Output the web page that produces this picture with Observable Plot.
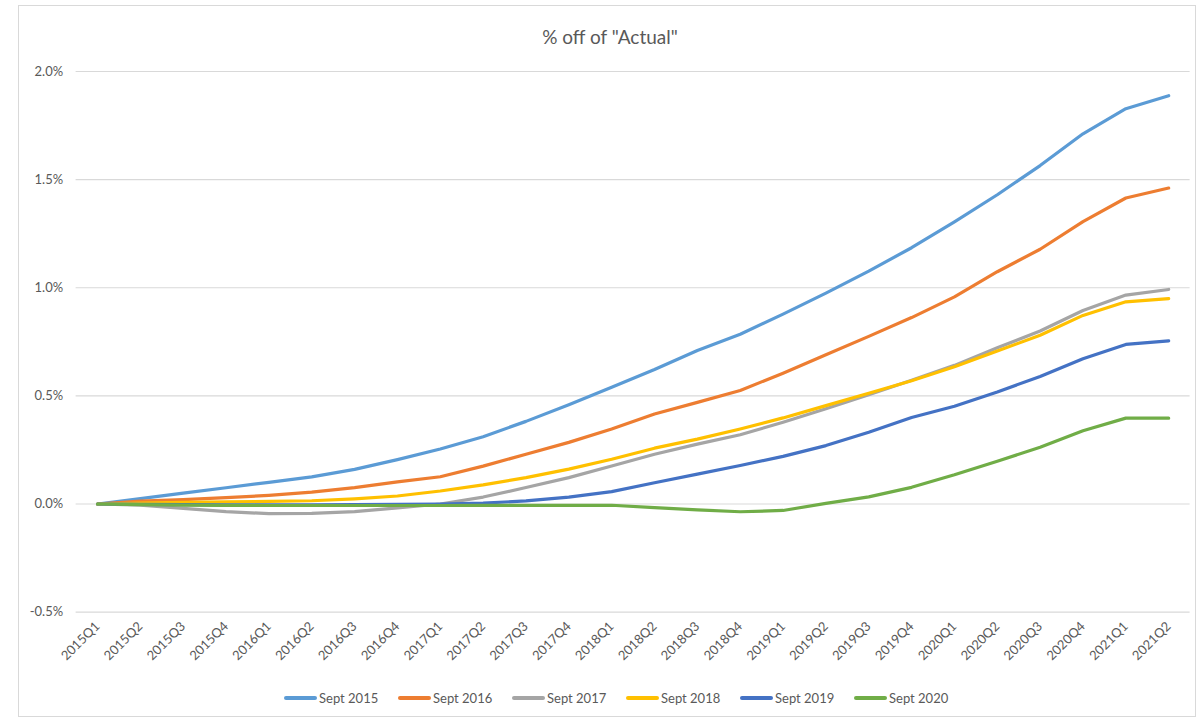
<!DOCTYPE html>
<html>
<head>
<meta charset="utf-8">
<script src="https://cdn.jsdelivr.net/npm/d3@7"></script>
<script src="https://cdn.jsdelivr.net/npm/@observablehq/plot@0.6"></script>
<style>
  html, body { margin: 0; padding: 0; background: #fff; }
  #wrap { position: relative; width: 1199px; height: 721px; overflow: hidden; font-family: Lato, "Open Sans", sans-serif; color: #595959; }
  #frame { position: absolute; left: 18px; top: 5px; width: 1178px; height: 712px; border: 1px solid #d9d9d9; box-sizing: border-box; }
  #title { position: absolute; left: 21px; width: 1178px; top: 25px; text-align: center; font-size: 19px; color: #595959; }
  #chart { position: absolute; left: 0; top: 0; }
  #legend { position: absolute; left: 284px; top: 690px; display: flex; font-size: 13px; color: #595959; }
  .item { width: 114px; display: flex; align-items: center; }
  .sw { width: 33px; height: 4px; margin-right: 2px; border-radius: 2px; }
</style>
</head>
<body>
<div id="wrap">
  <div id="frame"></div>
  <div id="chart"></div>
  <div id="title">% off of "Actual"</div>
  <div id="legend"></div>
</div>
<script>
const quarters = ["2015Q1","2015Q2","2015Q3","2015Q4","2016Q1","2016Q2","2016Q3","2016Q4",
  "2017Q1","2017Q2","2017Q3","2017Q4","2018Q1","2018Q2","2018Q3","2018Q4",
  "2019Q1","2019Q2","2019Q3","2019Q4","2020Q1","2020Q2","2020Q3","2020Q4","2021Q1","2021Q2"];

const seriesNames = ["Sept 2015","Sept 2016","Sept 2017","Sept 2018","Sept 2019","Sept 2020"];
const seriesColors = ["#5B9BD5","#ED7D31","#A5A5A5","#FFC000","#4472C4","#70AD47"];

const sept2015 = [0, 0.025, 0.05, 0.075, 0.10, 0.125, 0.16, 0.205, 0.254, 0.311, 0.382, 0.459, 0.54, 0.622, 0.71, 0.785, 0.878, 0.975, 1.077, 1.185, 1.305, 1.43, 1.565, 1.712, 1.828, 1.888];
const sept2016 = [0, 0.013, 0.02, 0.029, 0.04, 0.055, 0.076, 0.102, 0.126, 0.175, 0.23, 0.285, 0.347, 0.416, 0.47, 0.525, 0.605, 0.69, 0.775, 0.862, 0.958, 1.074, 1.178, 1.306, 1.415, 1.461];
const sept2017 = [0, -0.005, -0.02, -0.035, -0.045, -0.043, -0.035, -0.018, 0.0, 0.032, 0.076, 0.122, 0.176, 0.23, 0.277, 0.32, 0.378, 0.44, 0.505, 0.572, 0.641, 0.722, 0.80, 0.895, 0.966, 0.992];
const sept2018 = [0, 0.004, 0.007, 0.01, 0.012, 0.015, 0.024, 0.037, 0.06, 0.088, 0.122, 0.161, 0.207, 0.258, 0.30, 0.347, 0.398, 0.455, 0.512, 0.57, 0.635, 0.708, 0.78, 0.872, 0.935, 0.95];
const sept2019 = [0, -0.002, -0.003, -0.004, -0.004, -0.004, -0.003, -0.002, 0.0, 0.004, 0.014, 0.032, 0.057, 0.098, 0.138, 0.178, 0.22, 0.27, 0.332, 0.40, 0.452, 0.518, 0.59, 0.672, 0.738, 0.754];
const sept2020 = [0, -0.003, -0.005, -0.006, -0.007, -0.007, -0.007, -0.007, -0.007, -0.006, -0.006, -0.006, -0.006, -0.017, -0.027, -0.036, -0.03, 0.003, 0.033, 0.077, 0.135, 0.198, 0.262, 0.339, 0.397, 0.397];

const yTicks = [-0.5, 0, 0.5, 1.0, 1.5, 2.0];

const seriesValues = [sept2015, sept2016, sept2017, sept2018, sept2019, sept2020];
const rows = [];
seriesNames.forEach((name, i) => {
  seriesValues[i].forEach((v, j) => rows.push({series: name, q: quarters[j], v}));
});

const chart = Plot.plot({
  width: 1199,
  height: 680,
  marginTop: 71,
  marginBottom: 68.4,
  marginLeft: 75.6,
  marginRight: 9.4,
  style: {fontFamily: "Lato, 'Open Sans', sans-serif", fontSize: "13px", color: "#595959", background: "transparent", overflow: "visible"},
  x: {type: "point", domain: quarters, padding: 0.5, round: false, label: null},
  y: {domain: [-0.5, 2.0], label: null},
  color: {domain: seriesNames, range: seriesColors},
  marks: [
    Plot.gridY(yTicks, {stroke: "#d9d9d9", strokeOpacity: 1, strokeWidth: 1.2}),
    Plot.axisY(yTicks, {tickSize: 0, tickPadding: 13, tickFormat: d => d.toFixed(1) + "%", label: null, fill: "#595959"}),
    Plot.axisX({tickSize: 0, tickRotate: -45, tickPadding: 12, label: null, fill: "#595959"}),
    Plot.line(rows, {x: "q", y: "v", z: "series", stroke: "series", strokeWidth: 3.2, strokeLinecap: "round", strokeLinejoin: "round"})
  ]
});
document.getElementById("chart").appendChild(chart);

const legend = document.getElementById("legend");
seriesNames.forEach((name, i) => {
  const item = document.createElement("div");
  item.className = "item";
  const sw = document.createElement("div");
  sw.className = "sw";
  sw.style.background = seriesColors[i];
  const t = document.createElement("span");
  t.textContent = name;
  item.appendChild(sw);
  item.appendChild(t);
  legend.appendChild(item);
});
</script>
</body>
</html>
